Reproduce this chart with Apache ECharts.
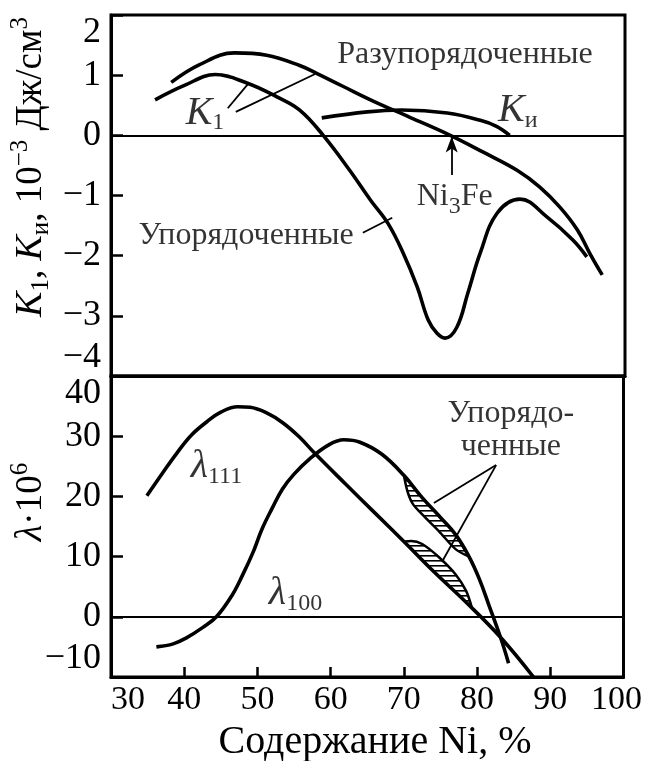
<!DOCTYPE html>
<html>
<head>
<meta charset="utf-8">
<script src="https://cdn.jsdelivr.net/npm/echarts@6/dist/echarts.min.js"></script>
<style>html,body{margin:0;padding:0;background:#fff;}#c{width:645px;height:761px;}</style>
</head>
<body>
<div id="c"></div>
<script>
// ---------- data (x = Ni content, %) ----------
const xTicks = [30, 40, 50, 60, 70, 80, 90, 100];
const k1Disordered = [[38.2,0.88],[42,1.17],[46.8,1.37],[51.2,1.33],[55.7,1.16],[58,1.03],[61.5,0.82],[65.7,0.57],[70.7,0.3],[76.2,0.0],[80.7,-0.28],[85.3,-0.58],[88.4,-0.86],[91.1,-1.19],[93.5,-1.57],[95.2,-1.96],[96.9,-2.32]];
const k1Ordered = [[36,0.59],[40,0.83],[44.2,1.01],[48.5,0.87],[52.6,0.64],[55.7,0.42],[58.9,0.0],[62.5,-0.58],[65.3,-1.07],[67.7,-1.46],[69.8,-1.96],[71.7,-2.52],[73.2,-3.07],[74.4,-3.29],[75.5,-3.37],[77.1,-3.19],[78.6,-2.62],[80.3,-1.95],[82.6,-1.29],[85.7,-1.06],[89.4,-1.36],[92.9,-1.74],[94.8,-2.02]];
const kInduced = [[58.7,0.29],[64.9,0.39],[69.6,0.42],[75.8,0.37],[80.3,0.25],[82.5,0.15],[84.3,0.0]];
const lambda111 = [[34.9,20.1],[37,23.8],[39,27.2],[41,30.2],[43.1,32.4],[45,34],[47.3,34.9],[49,34.8],[51.2,33.9],[53.5,32.2],[55.7,29.9],[57.8,27.2],[62,22.1],[66,17.3],[70,12.5],[74,7.6],[78.6,2.3],[83.2,-3.4],[87.7,-10]];
const lambda111Ordered = [[70,12.5],[71,12.6],[72.5,12.1],[74.8,9.9],[77.1,7.0],[78.5,4.3],[79.3,1.5]];
const lambda100 = [[36.2,-5],[38.5,-4.5],[40.3,-3.5],[42.5,-1.8],[44.4,0],[46.5,3.5],[48,7],[49.5,11],[50.6,14.5],[52,18],[53.4,21.2],[55,23.7],[57.1,26.2],[59.8,28.6],[61.8,29.4],[64,29],[67,27],[70,23.5],[72.5,19.8],[75,16.5],[77.1,13.6],[78.9,10],[80.3,6.3],[81.6,2],[83.2,-3.4],[84.3,-7.7]];
const lambda100Ordered = [[70,23.5],[70.5,20.8],[71.2,18.8],[72.5,17.0],[74.8,14.2],[77.1,11.2],[78.9,10]];

// annotation texts and anchors (data coordinates)
const topTexts = ['Разупорядоченные', '{i|K}{sub|1}', '{i|K}{sub|и}', '{n|Ni}{sub|3}{n|Fe}', 'Упорядоченные'];
const topTextAt = [[78.2,1.34],[42.8,0.37],[85.4,0.41],[76.8,-1.02],[48.4,-1.66]];
const topLeaders = [[[45.9,0.45],[48.7,0.86]], [[47.0,0.39],[57.8,1.02]], [[64.3,-1.62],[68.3,-1.37]]];
const ni3FeArrow = [[76.4,-0.66],[76.4,-0.02]];
const botTexts = ['{i|λ}{sub|111}', '{i|λ}{sub|100}', 'Упорядо-\nченные'];
const botTextAt = [[44.4,25.0],[55.2,3.8],[84.6,31.0]];
const botLeaders = [[[82.6,25.2],[74.1,18.9]], [[82.6,25.2],[75.2,9.1]]];

// ---------- styles ----------
const FONT = '"Liberation Serif", "Times New Roman", serif';
const BLACK = '#000';
const rich = {
  n: {fontFamily: FONT, fontSize: 32, color: BLACK, lineHeight: 44, verticalAlign: 'middle'},
  i: {fontFamily: FONT, fontSize: 40, fontStyle: 'italic', color: BLACK, lineHeight: 44, verticalAlign: 'middle'},
  sub: {fontFamily: FONT, fontSize: 24, color: BLACK, verticalAlign: 'bottom'},
  sup: {fontFamily: FONT, fontSize: 22, color: BLACK, verticalAlign: 'top'}
};
const titleRich = {
  n: {fontFamily: FONT, fontSize: 37, fill: BLACK, lineHeight: 46, verticalAlign: 'middle'},
  i: {fontFamily: FONT, fontSize: 38, fontStyle: 'italic', fill: BLACK, lineHeight: 46, verticalAlign: 'middle'},
  sub: {fontFamily: FONT, fontSize: 25, fill: BLACK, verticalAlign: 'bottom'},
  sup: {fontFamily: FONT, fontSize: 25, fill: BLACK, verticalAlign: 'top'}
};

// hatch pattern
const hc = document.createElement('canvas');
hc.width = 6; hc.height = 5;
const hctx = hc.getContext('2d');
hctx.fillStyle = '#000';
hctx.fillRect(0, 0, 6, 1.6);
const hatch = {image: hc, repeat: 'repeat'};

function band(upper, lower) {
  return function (params, api) {
    if (params.dataIndex !== 0) return null;
    const x0 = lower[0][0], x1 = lower[lower.length - 1][0];
    const inner = upper.filter(p => p[0] > x0 && p[0] < x1).reverse();
    const pts = lower.concat(inner).map(p => api.coord(p));
    return {type: 'polygon', shape: {points: pts}, style: {fill: hatch, stroke: null}};
  };
}

const minus = v => String(v).replace('-', '\u2212');

function lineSeries(data, xi, w, extra) {
  return Object.assign({
    type: 'line', data: data, xAxisIndex: xi, yAxisIndex: xi, showSymbol: false, symbol: 'none',
    smooth: 0.4, lineStyle: {color: BLACK, width: w}, silent: true, z: 5
  }, extra || {});
}

function labelSeries(texts, at, xi, leaders, extraLines) {
  const lines = leaders.map(l => [{coord: l[0]}, {coord: l[1]}]);
  if (extraLines) lines.push(...extraLines);
  return {
    type: 'scatter', xAxisIndex: xi, yAxisIndex: xi, symbolSize: 1, silent: true, z: 6,
    itemStyle: {color: 'rgba(0,0,0,0)'},
    data: texts.map((t, k) => ({value: at[k], label: {formatter: t}})),
    label: {show: true, position: 'inside', align: 'center', verticalAlign: 'middle',
      fontFamily: FONT, fontSize: 32, color: BLACK, lineHeight: 33, rich: rich},
    markLine: {silent: true, symbol: ['none', 'none'], animation: false,
      lineStyle: {color: BLACK, width: 1.8, type: 'solid'}, label: {show: false}, data: lines}
  };
}

const zeroLine = {silent: true, symbol: ['none', 'none'], animation: false,
  lineStyle: {color: BLACK, width: 2, type: 'solid'}, label: {show: false}, data: [{yAxis: 0}]};

const axisCommon = {
  type: 'value',
  axisLine: {show: true, onZero: false, lineStyle: {color: BLACK, width: 3}},
  splitLine: {show: false}
};
const yLabel = {fontFamily: FONT, fontSize: 36, color: BLACK, margin: 10, formatter: minus,
  verticalAlignMinLabel: 'bottom', verticalAlignMaxLabel: 'top'};

const chart = echarts.init(document.getElementById('c'), null, {renderer: 'canvas'});
chart.setOption({
  animation: false,
  backgroundColor: '#fff',
  grid: [
    {left: 111, top: 15, width: 514, height: 361, show: true, borderColor: BLACK, borderWidth: 3, backgroundColor: 'transparent'},
    {left: 111, top: 376, width: 514, height: 301, show: true, borderColor: BLACK, borderWidth: 3, backgroundColor: 'transparent'}
  ],
  xAxis: [
    Object.assign({}, axisCommon, {gridIndex: 0, min: xTicks[0], max: xTicks[xTicks.length - 1], interval: 10,
      axisTick: {show: false}, axisLabel: {show: false}}),
    Object.assign({}, axisCommon, {gridIndex: 1, min: xTicks[0], max: xTicks[xTicks.length - 1], interval: 10,
      axisTick: {show: true, inside: true, length: 10, lineStyle: {color: BLACK, width: 2.5}},
      axisLabel: {fontFamily: FONT, fontSize: 34, color: BLACK, margin: 6, alignMinLabel: 'left', alignMaxLabel: 'center',
        formatter: v => v === xTicks[xTicks.length - 1] ? '{r|' + v + '}' : String(v),
        rich: {r: {fontFamily: FONT, fontSize: 34, color: BLACK, padding: [0, 14, 0, 0]}}}})
  ],
  yAxis: [
    Object.assign({}, axisCommon, {gridIndex: 0, min: -4, max: 2, interval: 1,
      axisTick: {show: true, inside: true, length: 12, lineStyle: {color: BLACK, width: 2.5}}, axisLabel: yLabel}),
    Object.assign({}, axisCommon, {gridIndex: 1, min: -10, max: 40, interval: 10,
      axisTick: {show: true, inside: true, length: 12, lineStyle: {color: BLACK, width: 2.5}}, axisLabel: yLabel})
  ],
  series: [
    lineSeries(k1Disordered, 0, 3.6, {markLine: zeroLine}),
    lineSeries(k1Ordered, 0, 3.6),
    lineSeries(kInduced, 0, 3.6),
    labelSeries(topTexts, topTextAt, 0, topLeaders,
      [[{coord: ni3FeArrow[0], symbol: 'none'}, {coord: ni3FeArrow[1], symbol: 'arrow', symbolSize: [9, 16]}]]),
    {type: 'custom', xAxisIndex: 1, yAxisIndex: 1, data: [[74, 15]], renderItem: band(lambda100, lambda100Ordered), silent: true, z: 3},
    {type: 'custom', xAxisIndex: 1, yAxisIndex: 1, data: [[74, 8]], renderItem: band(lambda111, lambda111Ordered), silent: true, z: 3},
    lineSeries(lambda111, 1, 3.6, {markLine: zeroLine}),
    lineSeries(lambda111Ordered, 1, 2.5, {smooth: 0.3}),
    lineSeries(lambda100, 1, 3.6),
    lineSeries(lambda100Ordered, 1, 2.5, {smooth: 0.3}),
    labelSeries(botTexts, botTextAt, 1, botLeaders)
  ],
  graphic: [
    {type: 'text', x: 31, y: 167, rotation: Math.PI / 2, silent: true,
      style: {text: '{i|K}{sub|1}{n|, }{i|K}{sub|и}{n|, 10}{sup|\u22123}{n| Дж/см}{sup|3}', rich: titleRich,
        align: 'center', verticalAlign: 'middle', fill: BLACK}},
    {type: 'text', x: 31, y: 502, rotation: Math.PI / 2, silent: true,
      style: {text: '{i|λ}{n|·10}{sup|6}', rich: titleRich, align: 'center', verticalAlign: 'middle', fill: BLACK}},
    {type: 'text', x: 375, y: 742, silent: true,
      style: {text: 'Содержание Ni, %', fontFamily: FONT, fontSize: 40, fill: BLACK, align: 'center', verticalAlign: 'middle'}}
  ]
});
</script>
</body>
</html>
